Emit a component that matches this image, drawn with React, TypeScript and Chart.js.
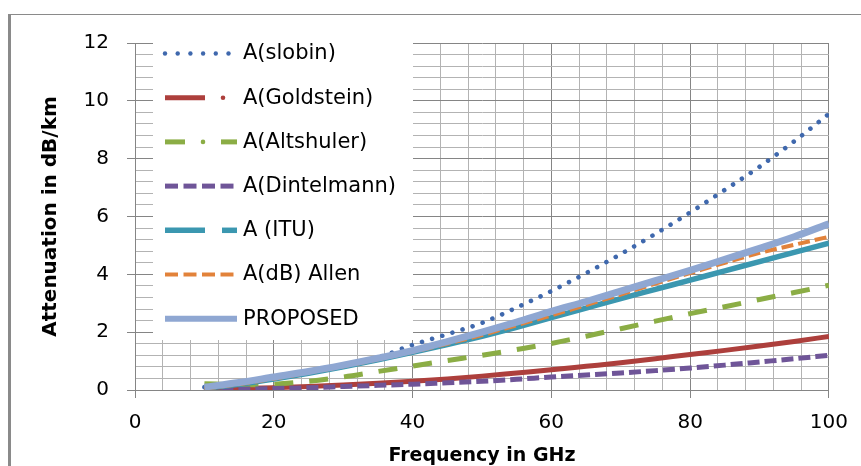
import React, { useEffect, useRef } from "react";
import { Chart, registerables } from "chart.js";

Chart.register(...registerables);

// ---- data ----
const frequencies = [10, 15, 20, 25, 30, 35, 40, 45, 50, 55, 60, 65, 70, 75, 80, 85, 90, 95, 100];
const aSlobin = [0.1, 0.26, 0.44, 0.64, 0.87, 1.13, 1.56, 1.93, 2.32, 2.85, 3.42, 4.04, 4.7, 5.4, 6.14, 6.92, 7.72, 8.6, 9.55];
const aGoldstein = [0.02, 0.05, 0.08, 0.12, 0.17, 0.23, 0.3, 0.38, 0.48, 0.59, 0.7, 0.82, 0.94, 1.08, 1.23, 1.37, 1.52, 1.68, 1.85];
const aAltshuler = [0.22, 0.18, 0.2, 0.3, 0.45, 0.64, 0.83, 1.02, 1.2, 1.4, 1.61, 1.86, 2.12, 2.38, 2.64, 2.88, 3.13, 3.37, 3.62];
const aDintelmann = [0.01, 0.03, 0.05, 0.08, 0.12, 0.16, 0.2, 0.25, 0.3, 0.37, 0.45, 0.52, 0.59, 0.67, 0.76, 0.86, 0.97, 1.08, 1.2];
const aITU = [0.05, 0.2, 0.38, 0.58, 0.8, 1.04, 1.3, 1.57, 1.86, 2.17, 2.5, 2.83, 3.16, 3.48, 3.8, 4.12, 4.44, 4.76, 5.08];
const aAllen = [0.05, 0.2, 0.39, 0.6, 0.82, 1.06, 1.32, 1.6, 1.9, 2.24, 2.58, 2.94, 3.3, 3.68, 4.04, 4.4, 4.74, 5.02, 5.3];
const aProposed = [0.1, 0.26, 0.45, 0.64, 0.86, 1.1, 1.36, 1.67, 2.0, 2.35, 2.72, 3.06, 3.42, 3.78, 4.14, 4.52, 4.9, 5.3, 5.75];

const seriesNames = ["A(slobin)", "A(Goldstein)", "A(Altshuler)", "A(Dintelmann)", "A (ITU)", "A(dB) Allen", "PROPOSED"];
const xTickLabels = [0, 20, 40, 60, 80, 100];
const yTickLabels = [0, 2, 4, 6, 8, 10, 12];
const xTitle = "Frequency in GHz";
const yTitle = "Attenuation in dB/km";

// ---- styles ----
const FONT = "'DejaVu Sans'";
const MAJOR = "#858585";
const MINOR = "#b3b3b3";
const styles = [
  { color: "#3f68ad", width: 4.6, dash: [0.01, 10.6], cap: "round", order: 6, legend: "dots" },
  { color: "#ad3f3c", width: 5, dash: [], cap: "butt", order: 5, legend: "dashdotR" },
  { color: "#8bad45", width: 5, dash: [19, 16], cap: "butt", order: 4, legend: "dashdotdash" },
  { color: "#6f5598", width: 5, dash: [12, 5], cap: "butt", order: 3, legend: "dashes" },
  { color: "#3b97b0", width: 5.5, dash: [], cap: "butt", order: 2, legend: "longshort" },
  { color: "#e2823a", width: 4, dash: [12, 5], cap: "butt", order: 1, legend: "dashes" },
  { color: "#8fa7d2", width: 7, dash: [], cap: "butt", order: 0, legend: "solid" },
];
const seriesValues = [aSlobin, aGoldstein, aAltshuler, aDintelmann, aITU, aAllen, aProposed];

const framePlugin = {
  id: "frame",
  beforeDraw(chart: any) {
    const ctx = chart.ctx;
    ctx.save();
    ctx.fillStyle = "#8a8a8a";
    ctx.fillRect(8, 14, 3, 460);
    ctx.fillRect(8, 14, 860, 1);
    ctx.restore();
  },
};

const legendPlugin = {
  id: "customLegend",
  beforeDatasetsDraw(chart: any) {
    const ctx = chart.ctx;
    ctx.save();
    ctx.fillStyle = "#ffffff";
    ctx.fillRect(153, 40, 260, 300);
    const x0 = 165;
    const x1 = 237;
    seriesNames.forEach((name, i) => {
      const st = styles[i];
      const y = 53.5 + i * 44.2;
      ctx.strokeStyle = st.color;
      ctx.fillStyle = st.color;
      ctx.lineCap = "butt";
      const seg = (a: number, b: number, w: number) => {
        ctx.lineWidth = w;
        ctx.beginPath();
        ctx.moveTo(a, y);
        ctx.lineTo(b, y);
        ctx.stroke();
      };
      const dot = (cx: number, r: number) => {
        ctx.beginPath();
        ctx.arc(cx, y, r, 0, Math.PI * 2);
        ctx.fill();
      };
      if (st.legend === "dots") {
        for (let k = 0; k < 6; k++) dot(x0 + k * 12.7, 2.2);
      } else if (st.legend === "dashdotR") {
        seg(x0, 205, st.width);
        dot(223, 2.3);
      } else if (st.legend === "dashdotdash") {
        seg(x0, 185, st.width);
        dot(203, 2.3);
        seg(221, x1, st.width);
      } else if (st.legend === "dashes") {
        for (let k = 0; k < 4; k++) seg(x0 + k * 18.5, x0 + k * 18.5 + 13, st.width);
      } else if (st.legend === "longshort") {
        seg(x0, 205, st.width);
        seg(222, x1, st.width);
      } else {
        seg(x0, x1, 6);
      }
      ctx.fillStyle = "#000000";
      ctx.font = `21px ${FONT}`;
      ctx.textBaseline = "middle";
      ctx.textAlign = "left";
      ctx.fillText(name, 243, y + 0.5);
    });
    ctx.restore();
  },
};

export default function App() {
  const ref = useRef<HTMLCanvasElement | null>(null);

  useEffect(() => {
    if (!ref.current) return;
    const datasets = seriesNames.map((name, i) => ({
      label: name,
      data: frequencies.map((f, j) => ({ x: f, y: seriesValues[i][j] })),
      borderColor: styles[i].color,
      backgroundColor: styles[i].color,
      borderWidth: styles[i].width,
      borderDash: styles[i].dash,
      borderCapStyle: styles[i].cap as any,
      pointRadius: 0,
      cubicInterpolationMode: "monotone" as const,
      fill: false,
      order: styles[i].order,
    }));

    const isMajorY = (v: number) => Math.abs(v / 2 - Math.round(v / 2)) < 1e-6;

    const chart = new Chart(ref.current, {
      type: "line",
      data: { datasets },
      plugins: [framePlugin, legendPlugin],
      options: {
        animation: false,
        responsive: false,
        devicePixelRatio: 1,
        layout: { padding: { left: 39, top: 43, right: 28, bottom: 0 } },
        plugins: { legend: { display: false }, tooltip: { enabled: false } },
        scales: {
          x: {
            type: "linear",
            min: 0,
            max: 100,
            afterFit: (s: any) => {
              s.height = 76;
            },
            ticks: {
              stepSize: 4,
              autoSkip: false,
              maxRotation: 0,
              padding: 13,
              color: "#000",
              font: { family: FONT, size: 20 },
              callback: (v: any) => (xTickLabels.includes(Number(v)) ? String(v) : ""),
            },
            grid: {
              color: (c: any) => (c.tick && c.tick.value % 20 === 0 ? MAJOR : MINOR),
              tickColor: (c: any) => (c.tick && c.tick.value % 20 === 0 ? MAJOR : "rgba(0,0,0,0)"),
              tickLength: 8,
              lineWidth: 1,
            },
            border: { color: MAJOR, width: 1 },
            title: {
              display: true,
              text: xTitle,
              color: "#000",
              font: { family: FONT, size: 19, weight: "bold" },
              padding: { top: 0, bottom: -1 },
            },
          },
          y: {
            type: "linear",
            min: 0,
            max: 12,
            afterFit: (s: any) => {
              s.width = 96;
            },
            ticks: {
              stepSize: 0.4,
              autoSkip: false,
              padding: 18,
              color: "#000",
              font: { family: FONT, size: 20 },
              callback: (v: any) => {
                const n = Number(v);
                return yTickLabels.some((t) => Math.abs(t - n) < 1e-6) ? String(Math.round(n)) : "";
              },
            },
            grid: {
              color: (c: any) => (c.tick && isMajorY(c.tick.value) ? MAJOR : MINOR),
              tickColor: (c: any) => (c.tick && isMajorY(c.tick.value) ? MAJOR : "rgba(0,0,0,0)"),
              tickLength: 8,
              lineWidth: 1,
            },
            border: { color: MAJOR, width: 1 },
            title: {
              display: true,
              text: yTitle,
              color: "#000",
              font: { family: FONT, size: 20, weight: "bold" },
              padding: { top: 0, bottom: 0 },
            },
          },
        },
      },
    });
    return () => chart.destroy();
  }, []);

  return (
    <div style={{ position: "absolute", left: 0, top: 0, width: 861, height: 466, background: "#fff" }}>
      <canvas ref={ref} width={861} height={466} style={{ display: "block", width: 861, height: 466 }} />
    </div>
  );
}
